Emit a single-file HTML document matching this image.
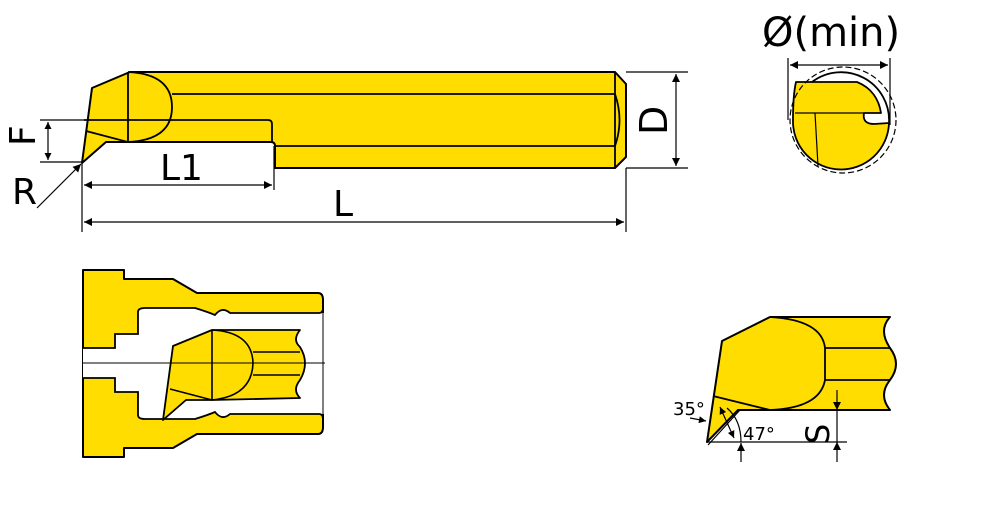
<!DOCTYPE html>
<html><head><meta charset="utf-8"><style>
html,body{margin:0;padding:0;background:#fff;}
svg{display:block}
text{font-family:"DejaVu Sans","Liberation Sans",sans-serif;fill:#000}
</style></head><body>
<svg width="1000" height="519" viewBox="0 0 1000 519" xmlns="http://www.w3.org/2000/svg">
<defs>
<marker id="a" viewBox="0 0 10 10" refX="10" refY="5" markerWidth="10" markerHeight="7" orient="auto-start-reverse" markerUnits="userSpaceOnUse"><path d="M0,0 L10,5 L0,10 Z" fill="#000"/></marker>
<marker id="b" viewBox="0 0 10 10" refX="10" refY="5" markerWidth="16" markerHeight="8" orient="auto-start-reverse" markerUnits="userSpaceOnUse"><path d="M0,0 L10,5 L0,10 Z" fill="#000"/></marker>
</defs>
<!-- top view tool -->
<path d="M130,72 L615,72 L626,84 L626,157 L615,168 L275,168 L275,146 Q275,142 271,142 L106,142 L82,163 L92,88 Z" fill="#FFDD00" stroke="#000" stroke-width="2" stroke-linejoin="round"/>
<g stroke="#000" stroke-width="1.8" fill="none">
<path d="M615,72 L615,168"/>
<path d="M172,94 L615,94 M275,146 L615,146"/>
<path d="M615,94 Q624,120 615,146"/>
<path d="M128,72 L128,142"/>
<path d="M128,72 Q172,74 172,107 Q172,140 128,142"/>
<path d="M84,120 L268,120 Q272,120 272,124 L272,142"/>
<path d="M86,131 L128,142"/>
</g>
<!-- top view dims -->
<g stroke="#000" stroke-width="1.2" fill="none">
<path d="M40,120 L84,120 M40,162 L82,162"/>
<path d="M48,122 L48,160" marker-start="url(#a)" marker-end="url(#a)"/>
<path d="M37,208 L81,164" marker-end="url(#b)"/>
<path d="M82,163 L82,232 M274,146 L274,190 M626,168 L626,232"/>
<path d="M84,185 L272,185" marker-start="url(#b)" marker-end="url(#b)"/>
<path d="M84,222 L624,222" marker-start="url(#b)" marker-end="url(#b)"/>
<path d="M626,72 L688,72 M626,168 L688,168"/>
<path d="M676,74 L676,166" marker-start="url(#b)" marker-end="url(#b)"/>
</g>
<text x="0" y="0" font-size="36" transform="translate(35,146) rotate(-90)">F</text>
<text x="12" y="204" font-size="36">R</text>
<text x="160" y="180" font-size="36">L1</text>
<text x="333" y="216" font-size="36">L</text>
<text x="0" y="0" font-size="38" transform="translate(667,135) rotate(-90)">D</text>
<!-- end view -->
<text x="762" y="46" font-size="40">Ø(min)</text>
<g stroke="#000" stroke-width="1.2" fill="none">
<path d="M788,58 L788,120 M890,58 L890,125"/>
<path d="M790,65 L888,65" marker-start="url(#b)" marker-end="url(#b)"/>
</g>
<path d="M796,82 L857,82 C872,88 879,100 881,113 L864,113 Q862,124 874,124 L889,123 A48 48 0 0 1 793,120 Q793,95 796,82 Z" fill="#FFDD00" stroke="#000" stroke-width="1.8" stroke-linejoin="round"/>
<path d="M812,82 A48 48 0 0 1 889,123" fill="none" stroke="#000" stroke-width="1.8"/>
<circle cx="843" cy="120" r="53" fill="none" stroke="#000" stroke-width="1.2" stroke-dasharray="6,3"/>
<path d="M795,113 L864,113 M815,113 L818,166" stroke="#000" stroke-width="1.2" fill="none"/>
<!-- bore view -->
<path d="M83,270 L124,270 L124,279 L173,279 L197,293 L318,293 Q323,293 323,300 L323,427 Q323,434 318,434 L197,434 L173,448 L124,448 L124,457 L83,457 Z" fill="#FFDD00" stroke="#000" stroke-width="2" stroke-linejoin="round"/>
<path d="M83,348 L115,348 L115,334 L138,334 L138,312 Q138,308 145,308 L195,308 Q208,312 215,315 Q222,306 230,313 L326,313 L326,414 L230,414 Q222,421 215,412 Q208,415 195,419 L145,419 Q138,419 138,415 L138,392 L115,392 L115,378 L83,378 Z" fill="#fff" stroke="none"/>
<path d="M83,348 L115,348 L115,334 L138,334 L138,312 Q138,308 145,308 L195,308 Q208,312 215,315 Q222,306 230,313 L319,313 Q323,313 323,308 M83,378 L115,378 L115,392 L138,392 L138,415 Q138,419 145,419 L195,419 Q208,415 215,412 Q222,421 230,414 L319,414 Q323,414 323,419" fill="none" stroke="#000" stroke-width="1.8"/>
<path d="M323,305 L323,422" stroke="#000" stroke-width="1"/>
<path d="M173,346 L212,330 L300,330 Q292,340 300,347 Q310,363 300,380 Q292,390 300,398 L212,400 L186,400 L163,420 Z" fill="#FFDD00" stroke="#000" stroke-width="1.8" stroke-linejoin="round"/>
<g stroke="#000" stroke-width="1.6" fill="none">
<path d="M212,330 L212,400 M212,330 Q252,332 253,363 Q252,396 212,400 M253,352 L300,352 M253,375 L300,375 M170,389 L212,400"/>
</g>
<path d="M83,363 L325,363" stroke="#000" stroke-width="1"/>
<!-- detail view -->
<path d="M722,341 L770,317 L890,317 Q878,330 890,348 Q902,364 890,380 Q878,395 890,410 L738,410 L707,442 Z" fill="#FFDD00" stroke="#000" stroke-width="2" stroke-linejoin="round"/>
<g stroke="#000" stroke-width="1.8" fill="none">
<path d="M770,317 Q822,320 825,348 L825,380 Q820,408 770,410 M825,348 L890,348 M825,380 L890,380 M713,396 L770,410"/>
</g>
<g stroke="#000" stroke-width="1.2" fill="none">
<path d="M707,442 L847,442"/>
<path d="M837,390 L837,410" marker-end="url(#b)"/>
<path d="M837,462 L837,442" marker-end="url(#b)"/>
<path d="M837,410 L837,442"/>
<path d="M741,462 L741,443" marker-end="url(#b)"/>
<path d="M741,442 Q741,420 727,408"/>
<path d="M690,418 L706,421" marker-end="url(#a)"/>
<path d="M720,407 L734,438" marker-start="url(#a)" marker-end="url(#a)"/>
<path d="M708,445 L740,410"/>
</g>
<text x="673" y="415" font-size="18">35°</text>
<text x="743" y="440" font-size="18">47°</text>
<text x="0" y="0" font-size="32" transform="translate(829,444) rotate(-90)">S</text>
</svg>
</body></html>
